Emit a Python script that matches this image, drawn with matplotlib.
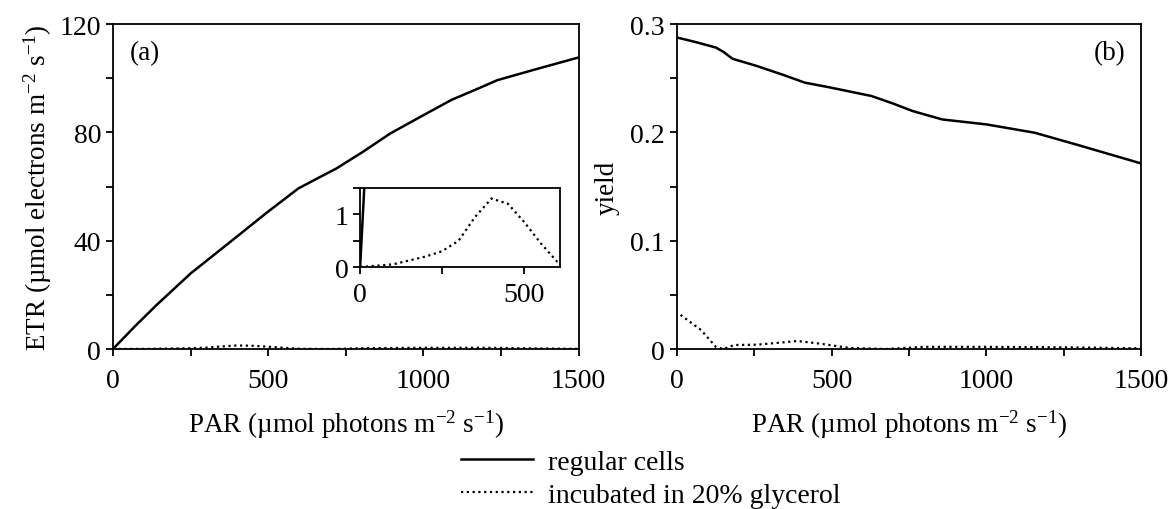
import numpy as np
import matplotlib
matplotlib.use("Agg")
import matplotlib.pyplot as plt
from matplotlib.ticker import MultipleLocator

plt.rcParams["font.family"] = ["Liberation Serif", "DejaVu Serif"]
plt.rcParams["mathtext.fontset"] = "custom"
plt.rcParams["mathtext.rm"] = "Liberation Serif"
plt.rcParams["mathtext.it"] = "Liberation Serif:italic"
plt.rcParams["font.size"] = 20

# ETR, regular cells
par_reg = [0, 70, 140, 251, 375, 498, 597, 658, 720, 806, 893, 991, 1090, 1176, 1238, 1361, 1500]
etr_reg = [0, 8.3, 16.2, 28, 39.3, 50.6, 59.3, 63, 66.7, 72.9, 79.6, 85.8, 92, 96.2, 99.3, 103.3, 107.7]

# ETR, incubated in 20% glycerol
par_gly = [0, 100, 200, 250, 300, 350, 400, 450, 500, 550, 600, 700, 800, 1000, 1200, 1300, 1500]
etr_gly = [0, 0.05, 0.2, 0.3, 0.5, 0.95, 1.3, 1.2, 0.85, 0.45, 0.1, 0.0, 0.3, 0.45, 0.45, 0.3, 0.05]

# yield, regular cells
par_yr = [0, 60, 126, 150, 180, 258, 340, 413, 497, 629, 700, 761, 857, 1000, 1156, 1300, 1500]
yld_reg = [0.2877, 0.2835, 0.2784, 0.2745, 0.268, 0.2614, 0.2535, 0.246, 0.2414, 0.2336, 0.2265, 0.2198, 0.212, 0.2074, 0.1997, 0.1880, 0.1713]

# yield, incubated in 20% glycerol
par_yg = [12, 78, 126, 150, 186, 258, 330, 389, 461, 557, 677, 797, 1000, 1276, 1500]
yld_gly = [0.0315, 0.0176, 0.002, 0.0, 0.0037, 0.004, 0.0058, 0.0074, 0.005, 0.001, 0.0, 0.002, 0.002, 0.0015, 0.0006]

labels = ["regular cells", "incubated in 20% glycerol"]
dot = (0, (1, 1.6))

fig = plt.figure(figsize=(11.73, 5.10), dpi=100)
ax1 = fig.add_axes([0.0963, 0.3137, 0.397, 0.637])
ax2 = fig.add_axes([0.577, 0.3137, 0.396, 0.637])
axin = fig.add_axes([0.307, 0.4745, 0.170, 0.155])


def style(ax, major_x, minor_x, major_y, minor_y, xpad=9):
    ax.xaxis.set_major_locator(MultipleLocator(major_x))
    ax.xaxis.set_minor_locator(MultipleLocator(minor_x))
    ax.yaxis.set_major_locator(MultipleLocator(major_y))
    ax.yaxis.set_minor_locator(MultipleLocator(minor_y))
    ax.tick_params(which="both", direction="out", length=5, width=1.3, labelsize=20)
    ax.tick_params(axis="x", pad=xpad)
    for s in ax.spines.values():
        s.set_linewidth(1.3)


l1, = ax1.plot(par_reg, etr_reg, color="black", lw=1.8)
l2, = ax1.plot(par_gly, etr_gly, color="black", lw=1.6, ls=dot)
ax1.set_xlim(0, 1500)
ax1.set_ylim(0, 120)
style(ax1, 500, 250, 40, 20)
ax1.set_xlabel(r"PAR (µmol photons m$^{-2}$ s$^{-1}$)", fontsize=19.5, labelpad=10)
ax1.set_ylabel(r"ETR (µmol electrons m$^{-2}$ s$^{-1}$)", fontsize=19.5)
ax1.text(0.035, 0.95, "(a)", transform=ax1.transAxes, va="top", ha="left", fontsize=19.5)

axin.plot(par_reg, etr_reg, color="black", lw=1.8)
axin.plot(par_gly, etr_gly, color="black", lw=1.6, ls=dot)
axin.set_xlim(0, 607)
axin.set_ylim(0, 1.5)
style(axin, 500, 250, 1, 0.5, xpad=6)

ax2.plot(par_yr, yld_reg, color="black", lw=1.8)
ax2.plot(par_yg, yld_gly, color="black", lw=1.6, ls=dot)
ax2.set_xlim(0, 1500)
ax2.set_ylim(0, 0.3)
style(ax2, 500, 250, 0.1, 0.05)
ax2.yaxis.set_major_formatter(plt.FuncFormatter(lambda v, p: "0" if abs(v) < 1e-9 else f"{v:.1f}"))
ax2.set_xlabel(r"PAR (µmol photons m$^{-2}$ s$^{-1}$)", fontsize=19.5, labelpad=10)
ax2.set_ylabel("yield", fontsize=19.5, labelpad=8)
ax2.text(0.965, 0.95, "(b)", transform=ax2.transAxes, va="top", ha="right", fontsize=19.5)

fig.legend([l1, l2], labels, loc="upper left", bbox_to_anchor=(0.393, 0.117),
           frameon=False, handlelength=2.6, handletextpad=0.55, labelspacing=0.27,
           borderpad=0, borderaxespad=0, fontsize=20)

fig.savefig("out.png", dpi=100)
